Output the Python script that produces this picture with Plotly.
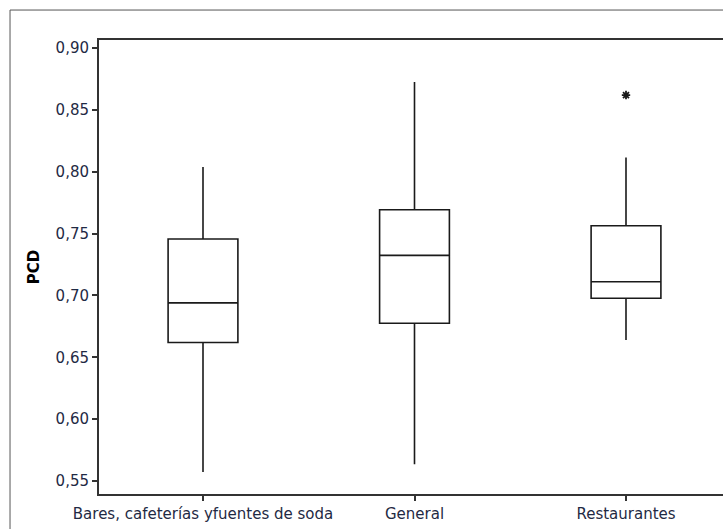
import plotly.graph_objects as go

categories = ["Bares, cafeterías yfuentes de soda", "General", "Restaurantes"]
q1 = [0.662, 0.6775, 0.6977]
medians = [0.694, 0.7324, 0.7111]
q3 = [0.7456, 0.7693, 0.7564]
lower_whisker = [0.5573, 0.5635, 0.6640]
upper_whisker = [0.8038, 0.8725, 0.8116]
outlier_cat = ["Restaurantes"]
outlier_val = [0.862]

fig = go.Figure()
fig.add_trace(go.Box(
    x=categories, q1=q1, median=medians, q3=q3,
    lowerfence=lower_whisker, upperfence=upper_whisker,
    width=0.33, whiskerwidth=0,
    fillcolor="white",
    line=dict(color="#1a1a1a", width=1.6),
    boxpoints=False, showlegend=False,
))
fig.add_trace(go.Scatter(
    x=outlier_cat, y=outlier_val, mode="markers",
    marker=dict(symbol="asterisk-open", size=7, color="#1a1a1a",
                line=dict(color="#1a1a1a", width=1.8)),
    showlegend=False,
))

FONT = "DejaVu Sans, sans-serif"
tickfont = dict(family=FONT, size=15, color="#1f2a44")

fig.update_layout(
    width=723, height=529,
    margin=dict(l=99, r=0, t=40, b=35),
    paper_bgcolor="white", plot_bgcolor="white",
    separators=",.",
    xaxis=dict(
        type="category", range=[-0.4917, 2.4586],
        showline=True, mirror=True, linecolor="#333333", linewidth=2,
        ticks="outside", ticklen=5, tickcolor="#333333", tickwidth=1.5,
        showgrid=False, zeroline=False, tickfont=tickfont,
    ),
    yaxis=dict(
        range=[0.5395, 0.9065], tickvals=[0.55, 0.60, 0.65, 0.70, 0.75, 0.80, 0.85, 0.90],
        tickformat=".2f",
        showline=True, linecolor="#333333", linewidth=2,
        ticks="outside", ticklen=5, tickcolor="#333333", tickwidth=1.5,
        showgrid=False, zeroline=False, tickfont=tickfont,
        title=dict(text="<b>PCD</b>", font=dict(family=FONT, size=15, color="black"), standoff=12),
    ),
    shapes=[
        dict(type="line", xref="paper", yref="paper", x0=-0.1426, x1=1.2, y0=1.066, y1=1.066,
             line=dict(color="#555555", width=1)),
        dict(type="line", xref="paper", yref="paper", x0=-0.1426, x1=-0.1426, y0=1.066, y1=-0.2,
             line=dict(color="#555555", width=1)),
    ],
)

fig.write_html("out.html", config={"displayModeBar": False},
               post_script="document.body.style.margin='0';document.body.style.overflow='hidden';")
